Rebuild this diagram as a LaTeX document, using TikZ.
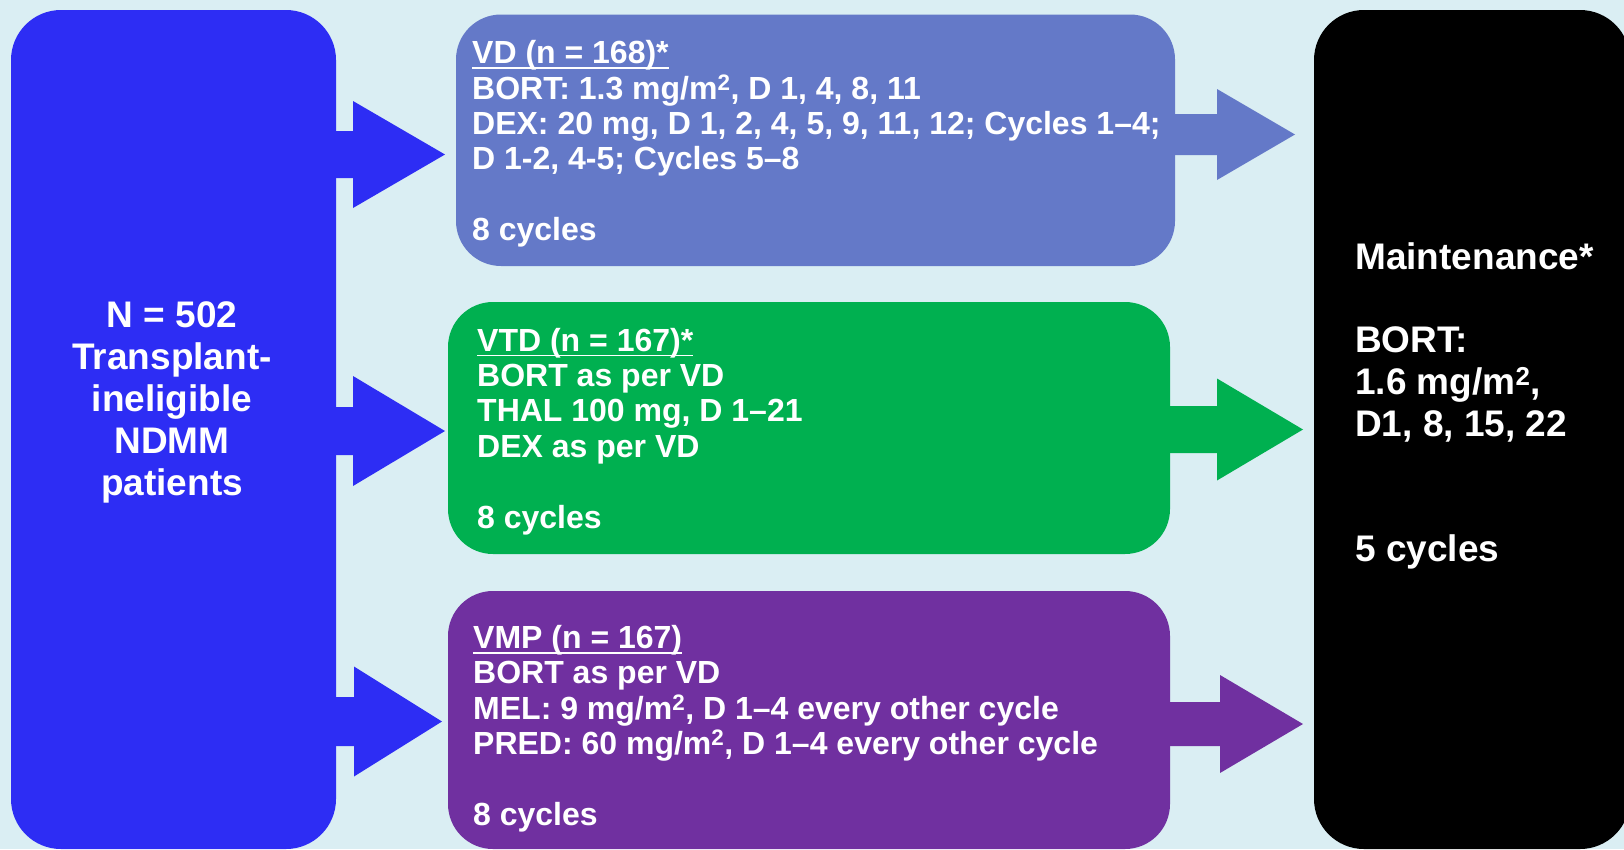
\documentclass[tikz,border=0pt]{standalone}
\usepackage{fontspec}
\setmainfont{Liberation Sans}

\definecolor{bgblue}{HTML}{DAEEF3}
\definecolor{cohortblue}{HTML}{2D2DF4}
\definecolor{vdblue}{HTML}{6479C8}
\definecolor{vtdgreen}{HTML}{00B050}
\definecolor{vmppurple}{HTML}{7030A0}

% underlined heading: a rule just under the baseline, as wide as the text
\newcommand\armheading[1]{\setbox0=\hbox{#1}%
  \rlap{\vrule height -3.5pt depth 5.3pt width \wd0}\box0}
% square metres
\newcommand\sqm{m\textsuperscript{2}}

% block arrow: colour, start x, head base x, tip x, centre y, shaft half width, head half width
\newcommand\blockarrow[7]{%
  \fill[#1] (#2,{#5-#6}) -- (#3,{#5-#6}) -- (#3,{#5-#7}) -- (#4,#5)
    -- (#3,{#5+#7}) -- (#3,{#5+#6}) -- (#2,{#5+#6}) -- cycle;}

\begin{document}
\begin{tikzpicture}[x=1pt,y=-1pt,
  panel/.style={inner sep=0pt, outer sep=0pt},
  armtext/.style={text=white, inner sep=0pt, anchor=base west,
    font=\fontsize{32}{35.4}\selectfont\bfseries},
  sidetext/.style={text=white, inner sep=0pt,
    font=\fontsize{37}{42}\selectfont\bfseries}]

\clip (0,0) rectangle (1624,849);
\fill[bgblue] (0,0) rectangle (1624,849);

% panels
\node[panel, fill=cohortblue, rounded corners=50pt,
  minimum width=325pt, minimum height=839pt] (cohort) at (173.5,429.5) {};
\node[panel, fill=vdblue, rounded corners=45pt,
  minimum width=719pt, minimum height=251.5pt] (vd) at (815.5,140.25) {};
\node[panel, fill=vtdgreen, rounded corners=45pt,
  minimum width=722pt, minimum height=252pt] (vtd) at (809,428) {};
\node[panel, fill=vmppurple, rounded corners=45pt,
  minimum width=722pt, minimum height=258pt] (vmp) at (809,720) {};
\node[panel, fill=black, rounded corners=50pt,
  minimum width=316pt, minimum height=839pt] (maint) at (1472,429.5) {};

% arrows from the cohort to each arm
\blockarrow{cohortblue}{320}{353}{445}{154.5}{23.5}{53.5}
\blockarrow{cohortblue}{320}{353}{445}{431}{24}{55}
\blockarrow{cohortblue}{320}{354}{442}{721.5}{24.5}{55}
\coordinate (tipA) at (445,154.5);
\coordinate (tipB) at (445,431);
\coordinate (tipC) at (442,721.5);

% arrows from each arm to maintenance
\blockarrow{vdblue}{1160}{1217}{1295}{134.5}{20.5}{45.5}
\blockarrow{vtdgreen}{1155}{1217}{1303}{429.5}{23.5}{51}
\blockarrow{vmppurple}{1155}{1220}{1303}{724}{22}{49}
\coordinate (tipD) at (1295,134.5);
\coordinate (tipE) at (1303,429.5);
\coordinate (tipF) at (1303,724);

% texts
\node[sidetext, anchor=base] (cohorttxt) at (172,327.7)
  {\vtop{\halign{\hfil#\hfil\cr N = 502\cr Transplant-\cr ineligible\cr NDMM\cr patients\cr}}};

\node[armtext] (vdtxt) at (472,63.7) {\vtop{%
  \hbox{\armheading{VD (n = 168)*}}
  \hbox{BORT: 1.3 mg/\sqm, D 1, 4, 8, 11}
  \hbox{DEX: 20 mg, D 1, 2, 4, 5, 9, 11, 12; Cycles 1–4;}
  \hbox{D 1-2, 4-5; Cycles 5–8}
  \hbox{}
  \hbox{8 cycles}}};

\node[armtext] (vtdtxt) at (477,351) {\vtop{%
  \hbox{\armheading{VTD (n = 167)*}}
  \hbox{BORT as per VD}
  \hbox{THAL 100 mg, D 1–21}
  \hbox{DEX as per VD}
  \hbox{}
  \hbox{8 cycles}}};

\node[armtext] (vmptxt) at (473,648.5) {\vtop{%
  \hbox{\armheading{VMP (n = 167)}}
  \hbox{BORT as per VD}
  \hbox{MEL: 9 mg/\sqm, D 1–4 every other cycle}
  \hbox{PRED: 60 mg/\sqm, D 1–4 every other cycle}
  \hbox{}
  \hbox{8 cycles}}};

\node[sidetext, anchor=base west] (mainttxt) at (1355,269.3) {\vtop{%
  \baselineskip=41.8pt
  \hbox{Maintenance*}
  \hbox{}
  \hbox{BORT:}
  \hbox{1.6 mg/\sqm,}
  \hbox{D1, 8, 15, 22}
  \hbox{}
  \hbox{}
  \hbox{5 cycles}}};
\end{tikzpicture}
\end{document}
